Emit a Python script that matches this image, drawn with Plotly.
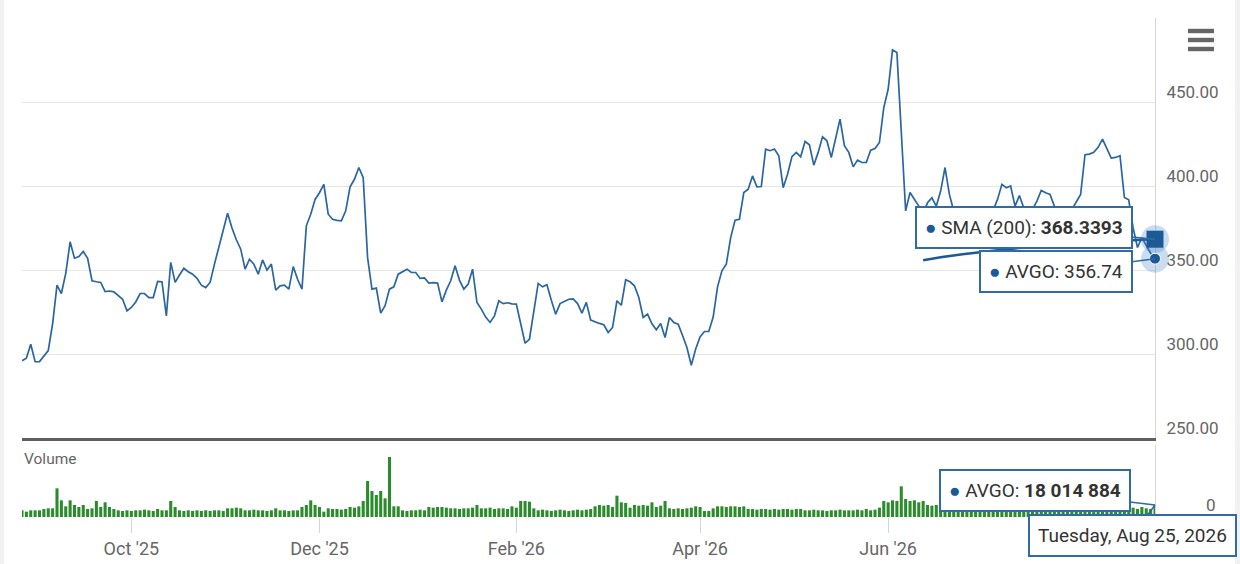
import pandas as pd
import plotly.graph_objects as go

# ---------------- data ----------------
start_date = "2025-08-27"
end_date = "2026-08-25"

# AVGO daily close, one value per trading day
price = [
    296, 297.5, 305.8, 295.4, 295.5, 298.5, 302, 318, 341, 336,
    348, 366.8, 357, 358, 361, 357, 343.6, 343, 342.6, 337.2,
    337.5, 337, 334.5, 332.6, 325.7, 327.7, 331, 336, 336, 333.6,
    333.6, 343.2, 343, 322.7, 354.5, 342.6, 347, 351, 349, 347.5,
    345, 341, 339.5, 342.6, 353.5, 363.4, 374, 383.8, 375, 368,
    362.4, 350.5, 356.4, 353.5, 347.5, 356, 350, 353.5, 338, 340.6,
    341, 338.6, 352, 344.5, 338.6, 376.3, 383.2, 392, 396, 401,
    383.2, 380.2, 379.5, 379.3, 385.2, 399.5, 404, 411, 405, 357.4,
    338.6, 339.2, 324.3, 328.7, 338.6, 340, 347.5, 349, 350.5, 348.5,
    348.5, 345, 345.3, 342.2, 342.5, 342.2, 331, 338, 343.6, 352.5,
    344, 338.6, 341.6, 350.5, 330.7, 326.7, 322, 318.8, 322.7, 331.7,
    330, 330.5, 329.8, 329.7, 318, 306.4, 308.8, 325, 342, 340,
    341.2, 332, 323.7, 330, 331.5, 332.6, 332.8, 330, 324.3, 330.7,
    320.2, 319, 318.2, 317.4, 312.8, 315.8, 331.7, 329, 344.2, 343,
    340.6, 333.6, 321.7, 323.7, 318, 314.4, 318.2, 309.8, 321.7, 318.8,
    317.7, 311, 303.9, 293.3, 303, 310.2, 313.4, 313.4, 322, 340,
    349.5, 353.5, 369.3, 379.6, 380.2, 396.1, 398.1, 406, 399.5, 399.7,
    421.9, 421, 422, 418, 399, 407, 417.4, 420, 417.4, 426.5,
    424.5, 412.4, 420, 429.3, 426.9, 417, 428, 439.8, 424, 420,
    411.4, 415.4, 414, 414, 421.3, 422.3, 425.9, 446.7, 457.6, 481,
    479.5, 427.9, 385.2, 396.1, 392, 388, 384, 390, 393, 388,
    397, 411, 395, 385, 380, 383, 378, 385, 382, 387,
    381, 379, 386, 392, 401, 399, 400, 388, 394.3, 387,
    383, 386, 391, 397.3, 396, 395, 388, 384, 387, 383,
    386, 390.2, 395, 418.6, 419, 420, 423, 427.9, 422, 416.6,
    417, 418, 393.2, 391.8, 375, 363.4, 369.3, 365, 360, 356.74,
]

# Volume in millions of shares, one value per trading day
volume_m = [
    10, 8, 10, 10, 10, 12, 13, 13, 43, 25,
    16, 25, 18, 15, 18, 12, 13, 24, 15, 22,
    15, 12, 10, 9, 10, 9, 10, 10, 11, 10,
    9, 12, 10, 10, 24, 15, 10, 9, 10, 9,
    10, 9, 10, 9, 10, 10, 9, 13, 13, 14,
    13, 10, 10, 11, 10, 10, 9, 10, 13, 10,
    10, 9, 10, 10, 15, 18, 25, 18, 15, 8,
    13, 12, 12, 11, 12, 15, 14, 16, 24, 54,
    39, 33, 39, 28, 90, 16, 16, 10, 9, 10,
    10, 11, 10, 15, 14, 15, 15, 14, 13, 13,
    12, 13, 13, 14, 18, 13, 13, 14, 12, 13,
    13, 12, 16, 14, 24, 24, 23, 13, 10, 11,
    10, 9, 10, 11, 10, 9, 10, 11, 10, 11,
    12, 16, 18, 17, 18, 15, 32, 22, 21, 14,
    18, 17, 18, 17, 22, 15, 17, 24, 13, 12,
    13, 12, 13, 14, 16, 15, 9, 9, 13, 16,
    16, 15, 16, 16, 15, 16, 12, 12, 11, 12,
    12, 11, 12, 11, 12, 12, 11, 12, 12, 10,
    10, 11, 10, 10, 9, 10, 10, 11, 10, 10,
    10, 11, 10, 12, 10, 11, 14, 24, 22, 25,
    24, 46, 27, 24, 25, 22, 24, 18, 17, 18,
    14, 13, 15, 12, 13, 12, 14, 13, 12, 13,
    12, 14, 13, 12, 13, 14, 12, 13, 12, 12,
    13, 12, 14, 13, 12, 12, 13, 12, 12, 11,
    12, 13, 12, 12, 14, 15, 13, 12, 12, 11,
    12, 13, 12, 11, 14, 12, 15, 13, 12, 18.014884,
]

# SMA (200) read at a few dates
sma_dates = ["2026-06-11", "2026-06-17", "2026-06-24", "2026-07-01", "2026-07-08",
             "2026-07-15", "2026-07-22", "2026-07-29", "2026-08-05", "2026-08-12",
             "2026-08-19", "2026-08-25"]
sma_vals = [355.8, 357.6, 359.4, 361.0, 362.4, 363.6, 364.7, 365.6, 366.5, 367.3,
            367.9, 368.3393]

price_ticks = [250, 300, 350, 400, 450, 500]
price_tick_text = ["250.00", "300.00", "350.00", "400.00", "450.00", ""]

date_ticks = ["2025-10-01", "2025-12-01", "2026-02-02", "2026-04-01", "2026-06-01"]
date_tick_text = ["Oct '25", "Dec '25", "Feb '26", "Apr '26", "Jun '26"]

dates = pd.bdate_range(start_date, end_date)
n = min(len(dates), len(price), len(volume_m))
dates = dates[:n]
price = price[:n]
volume_m = volume_m[:n]
last = dates[-1]

# ---------------- layout helpers ----------------
W, H = 1240, 564
L, R, T, B = 22, 85, 18, 47
PW, PH = W - L - R, H - T - B


def px(x):
    return (x - L) / PW


def py(y):
    return (H - B - y) / PH


FONT = "Roboto, 'Open Sans', sans-serif"
BLUE = "#2a66a0"
DARK_BLUE = "#1b5a96"
BOX = "#2f6ca6"

fig = go.Figure()

fig.add_trace(go.Scatter(x=dates, y=price, mode="lines", name="AVGO",
                         line=dict(color=BLUE, width=1.7), xaxis="x", yaxis="y",
                         hoverinfo="skip"))
fig.add_trace(go.Scatter(x=pd.to_datetime(sma_dates), y=sma_vals, mode="lines",
                         name="SMA (200)", line=dict(color=DARK_BLUE, width=2.6),
                         xaxis="x", yaxis="y", hoverinfo="skip"))
fig.add_trace(go.Bar(x=dates, y=volume_m, name="Volume",
                     marker=dict(color="#2a8c2a", line=dict(width=0)),
                     xaxis="x2", yaxis="y2", hoverinfo="skip"))

# hover markers at the last point
fig.add_trace(go.Scatter(x=[last, last], y=[sma_vals[-1], price[-1]], mode="markers",
                         marker=dict(size=28, color="rgba(60,130,200,0.28)"),
                         xaxis="x", yaxis="y", cliponaxis=False, hoverinfo="skip"))
fig.add_trace(go.Scatter(x=[last], y=[sma_vals[-1]], mode="markers",
                         marker=dict(symbol="square", size=17, color=DARK_BLUE,
                                     line=dict(width=0)),
                         xaxis="x", yaxis="y", cliponaxis=False, hoverinfo="skip"))
fig.add_trace(go.Scatter(x=[last], y=[price[-1]], mode="markers",
                         marker=dict(symbol="circle", size=11, color=DARK_BLUE,
                                     line=dict(color="white", width=1)),
                         xaxis="x", yaxis="y", cliponaxis=False, hoverinfo="skip"))

annotations = []


def tooltip(text, x, y, xref, yref, ax, ay):
    annotations.append(dict(x=x, y=y, xref=xref, yref=yref, ax=ax, ay=ay,
                            text=text, showarrow=True, arrowhead=0, arrowwidth=1.6,
                            arrowcolor=BOX, standoff=0, startstandoff=0,
                            font=dict(family=FONT, size=19, color="#333333"),
                            bgcolor="white", bordercolor=BOX, borderwidth=2,
                            borderpad=8))


dot = "<span style='color:%s'>●</span> " % DARK_BLUE
tooltip(dot + "SMA (200): <b>368.3393</b>", last, sma_vals[-1], "x", "y", -131, -12)
tooltip(dot + "AVGO: 356.74", last, price[-1], "x", "y", -99, 13)
tooltip(dot + "AVGO: <b>18 014 884</b>", last, volume_m[-1], "x2", "y2", -120, -14)
tooltip("Tuesday, Aug 25, 2026", last, volume_m[-1], "x2", "y2", -23, 31)

annotations.append(dict(x=px(22), y=py(459), xref="paper", yref="paper", text="Volume",
                        showarrow=False, xanchor="left", yanchor="middle",
                        font=dict(family=FONT, size=15.5, color="#666666")))
annotations.append(dict(x=px(1218), y=py(505), xref="paper", yref="paper", text="0",
                        showarrow=False, xanchor="right", yanchor="middle",
                        font=dict(family=FONT, size=17, color="#666666")))

shapes = []
# hamburger menu icon
for yy in (31, 40, 49):
    shapes.append(dict(type="rect", xref="paper", yref="paper",
                       x0=px(1188), x1=px(1214), y0=py(yy + 2.2), y1=py(yy - 2.2),
                       fillcolor="#666666", line=dict(width=0)))
# faint page edges
shapes.append(dict(type="rect", xref="paper", yref="paper", x0=px(0), x1=px(4),
                   y0=py(H), y1=py(0), fillcolor="#f2f2f2", line=dict(width=0)))
shapes.append(dict(type="rect", xref="paper", yref="paper", x0=px(1235), x1=px(1240),
                   y0=py(H), y1=py(0), fillcolor="#f2f2f2", line=dict(width=0)))

xrange = [dates[0], last]
rb = [dict(bounds=["sat", "mon"])]

fig.update_layout(
    width=W, height=H, autosize=False,
    margin=dict(l=L, r=R, t=T, b=B, autoexpand=False),
    paper_bgcolor="white", plot_bgcolor="white",
    showlegend=False, bargap=0.3,
    font=dict(family=FONT, color="#666666"),
    xaxis=dict(domain=[0, 1], anchor="y", range=xrange, rangebreaks=rb,
               showticklabels=False, showgrid=False, zeroline=False,
               showline=True, linecolor="#5f5f5f", linewidth=3, ticks="",
               matches="x2", automargin=False),
    yaxis=dict(domain=[py(438), 1], anchor="x", side="right", range=[250, 500],
               tickmode="array", tickvals=price_ticks, ticktext=price_tick_text,
               showgrid=True, gridcolor="#e6e6e6", gridwidth=1, zeroline=False,
               showline=True, linecolor="#d5d5d5", linewidth=1, ticks="",
               layer="below traces", automargin=False,
               ticklabelshift=-10, ticklabelstandoff=7,
               tickfont=dict(family=FONT, size=17, color="#666666")),
    xaxis2=dict(domain=[0, 1], anchor="y2", range=xrange, rangebreaks=rb,
                tickmode="array", tickvals=date_ticks, ticktext=date_tick_text,
                ticks="outside", ticklen=15, tickcolor="#ccd6eb", tickwidth=1,
                showgrid=False, zeroline=False, showline=False, automargin=False,
                tickfont=dict(family=FONT, size=18, color="#666666")),
    yaxis2=dict(domain=[0, py(445)], anchor="x2", side="right", range=[0, 108],
                showticklabels=False, showgrid=False, zeroline=False,
                showline=True, linecolor="#d5d5d5", linewidth=1, ticks="",
                layer="below traces", automargin=False),
    annotations=annotations,
    shapes=shapes,
)

fig.write_html("out.html",
               config={"displayModeBar": False, "responsive": False},
               default_width="1240px", default_height="564px",
               post_script="document.body.style.margin='0px';"
                           "document.body.style.overflow='hidden';")
